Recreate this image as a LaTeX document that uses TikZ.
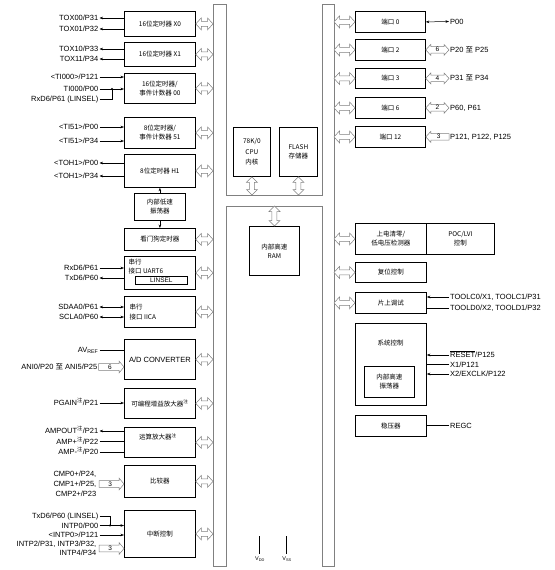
\documentclass[tikz,border=0pt]{standalone}
\usepackage{fontspec}
\setmainfont{Liberation Sans}
\newfontfamily\cjk{Noto Sans CJK SC}
\usetikzlibrary{calc,arrows.meta}
\newcommand\mybox[6]{\node[box,minimum width=#4pt,minimum height=#5pt] (#1) at (#2,#3) {#6};}
\begin{document}
\begin{tikzpicture}[x=1pt,y=-1pt,
 box/.style={draw, line width=0.8pt, anchor=north west, inner sep=0pt, align=center, font=\cjk\fontsize{6.5}{9}\selectfont},
 txt/.style={inner sep=0pt, align=center, font=\cjk\fontsize{6.5}{9}\selectfont},
 lab/.style={inner sep=1pt, font=\fontsize{7.5}{9}\selectfont, text height=5.4pt, text depth=0pt},
 ll/.style={lab, anchor=east},
 rl/.style={lab, anchor=west},
 num/.style={inner sep=0pt, font=\fontsize{6.5}{7}\selectfont},
 wire/.style={line width=0.5pt},
 arr/.style={wire, -{Stealth[length=3.5pt,width=2.6pt]}},
 barr/.style={wire, {Stealth[length=3.5pt,width=2.6pt]}-{Stealth[length=3.5pt,width=2.6pt]}},
 busline/.style={draw=gray, line width=0.6pt},
 fat/.style={draw=gray, line width=0.5pt, fill=white, line join=miter},
 fatH/.style n args={3}{to path={let \p1=(\tikztostart),\p2=(\tikztotarget) in
   (\x1,\y1) -- (\x1+#3,\y1+#1) -- (\x1+#3,\y1+#2) -- (\x2-#3,\y1+#2) -- (\x2-#3,\y1+#1) -- (\x2,\y1)
   -- (\x2-#3,\y1-#1) -- (\x2-#3,\y1-#2) -- (\x1+#3,\y1-#2) -- (\x1+#3,\y1-#1) -- cycle}},
 fatE/.style n args={3}{to path={let \p1=(\tikztostart),\p2=(\tikztotarget) in
   (\x1,\y1+#2) -- (\x2-#3,\y1+#2) -- (\x2-#3,\y1+#1) -- (\x2,\y1)
   -- (\x2-#3,\y1-#1) -- (\x2-#3,\y1-#2) -- (\x1,\y1-#2) -- cycle}},
 fatS/.style n args={3}{to path={let \p1=(\tikztostart),\p2=(\tikztotarget) in
   (\x1,\y1) -- (\x1+#3,\y1+#1) -- (\x1+#3,\y1+#2) -- (\x2,\y1+#2) -- (\x2,\y1-#2)
   -- (\x1+#3,\y1-#2) -- (\x1+#3,\y1-#1) -- cycle}},
 fatV/.style n args={3}{to path={let \p1=(\tikztostart),\p2=(\tikztotarget) in
   (\x1,\y1) -- (\x1+#1,\y1-#3) -- (\x1+#2,\y1-#3) -- (\x1+#2,\y2+#3) -- (\x1+#1,\y2+#3) -- (\x1,\y2)
   -- (\x1-#1,\y2+#3) -- (\x1-#2,\y2+#3) -- (\x1-#2,\y1-#3) -- (\x1-#1,\y1-#3) -- cycle}},
 fatB/.style={fatH={6pt}{2.5pt}{5.5pt}},
 fatN/.style={fatH={5.5pt}{3.3pt}{5pt}},
 fatNE/.style={fatE={6pt}{3.3pt}{5pt}},
 fatNS/.style={fatS={5.5pt}{3.3pt}{5pt}},
 fatVB/.style={fatV={5.5pt}{2.5pt}{5.5pt}}
]
\useasboundingbox (0,0) rectangle (554,570);

% ---------- bus ----------
\draw[busline] (213,4) -- (226,4) -- (226,195) -- (322,195) -- (322,4) -- (334,4) -- (334,566)
  -- (322,566) -- (322,206) -- (226,206) -- (226,566) -- (213,566) -- cycle;
\coordinate (busL) at (213,0);
\coordinate (busR) at (334,0);
\coordinate (busTop) at (0,195);
\coordinate (busBot) at (0,206);

% ---------- left blocks ----------
\mybox{tx0}{124}{11}{71}{25}{16位定时器 X0}
\mybox{tx1}{124}{42}{71}{24}{16位定时器 X1}
\mybox{t00}{124}{73}{71}{30}{16位定时器/\\事件计数器 00}
\mybox{t51}{124}{117}{71}{31}{8位定时器/\\事件计数器 51}
\mybox{th1}{124}{154}{71}{33}{8位定时器 H1}
\mybox{losc}{134}{193}{51}{27}{内部低速\\振荡器}
\mybox{wdt}{124}{228}{71}{22}{看门狗定时器}
\mybox{uart}{124}{256}{71}{33}{}
\mybox{iica}{124}{296}{71}{31}{}
\mybox{adc}{124}{339}{71}{40}{\normalfont\fontsize{7.5}{9}\selectfont A/D CONVERTER}
\mybox{pga}{124}{388}{71}{30}{可编程增益放大器\textsuperscript{注}}
\mybox{amp}{124}{427}{71}{30}{}
\mybox{cmp}{124}{465}{71}{32}{比较器}
\mybox{intc}{124}{510}{71}{47}{中断控制}

\node[txt, anchor=west] (uartA) at (128.5,262) {串行};
\node[txt, anchor=west] (uartB) at (128.5,271.5) {接口 UART6};
\node[draw, line width=0.8pt, anchor=north west, minimum width=52pt, minimum height=8pt, inner sep=0pt,
      font=\fontsize{6.5}{7}\selectfont] (linsel) at (135,276) {LINSEL};
\node[txt, anchor=west] (iicaA) at (129.5,307) {串行};
\node[txt, anchor=west] (iicaB) at (129.5,316.7) {接口 IICA};
\node[txt] (ampT) at (158,437) {运算放大器\textsuperscript{注}};

% oscillator arrows
\draw[arr] (losc.north) -- (th1.south);
\draw[arr] (losc.south) -- (wdt.north);

% ---------- middle ----------
\node[box,minimum width=37pt,minimum height=49pt,font=\cjk\fontsize{6.5}{10.5}\selectfont] (cpu) at (233,127) {78K/0\\CPU\\内核};
\mybox{flash}{279}{127}{38}{49}{FLASH\\存储器}
\mybox{ram}{249}{226}{50}{49}{内部高速\\RAM}
\draw[fat] (cpu.south) to[fatVB] (cpu.south |- busTop);
\draw[fat] (flash.south) to[fatVB] (flash.south |- busTop);
\draw[fat] (ram.north |- busBot) to[fatVB] (ram.north);

% ---------- right blocks ----------
\mybox{p0}{355}{11}{70}{21}{端口 0}
\mybox{p2}{355}{39}{70}{21}{端口 2}
\mybox{p3}{355}{68}{70}{20}{端口 3}
\mybox{p6}{355}{97}{70}{21}{端口 6}
\mybox{p12}{355}{126}{70}{21}{端口 12}
\mybox{poc1}{355}{223}{71}{31}{上电清零/\\低电压检测器}
\mybox{poc2}{426}{223}{68}{31}{POC/LVI\\控制}
\mybox{rst}{355}{262}{71}{20}{复位控制}
\mybox{dbg}{355}{292}{71}{21}{片上调试}
\mybox{sys}{355}{323}{71}{82}{}
\mybox{sosc}{364}{366}{50}{31}{内部高速\\振荡器}
\mybox{reg}{355}{415}{71}{21}{稳压器}
\node[txt] (sysT) at (390.5,343) {系统控制};

% ---------- bus arrows ----------
\foreach \b in {tx0,tx1,t00,t51,th1,wdt,uart,iica,adc,pga,amp,cmp,intc}
  \draw[fat] (\b.east) to[fatB] (\b.east -| busL);
\foreach \b in {p0,p2,p3,p6,p12,poc1,rst,dbg}
  \draw[fat] (\b.west -| busR) to[fatB] (\b.west);

% ---------- left labels ----------
\node[ll] (lt1) at (99.5,18) {TOX00/P31};
\node[ll] (lt2) at (99.5,29) {TOX01/P32};
\draw[arr] (lt1.east -| tx0.west) -- (lt1.east);
\draw[arr] (lt2.east -| tx0.west) -- (lt2.east);
\node[ll] (lt3) at (99.5,49) {TOX10/P33};
\node[ll] (lt4) at (99.5,59) {TOX11/P34};
\draw[arr] (lt3.east -| tx1.west) -- (lt3.east);
\draw[arr] (lt4.east -| tx1.west) -- (lt4.east);
\node[ll] (lt5) at (99.5,77) {\textless TI000\textgreater/P121};
\node[ll] (lt6) at (99.5,89) {TI000/P00};
\node[ll] (lt7) at (99.5,99) {RxD6/P61 (LINSEL)};
\draw[arr] (lt5.east) -- (lt5.east -| t00.west);
\draw[arr] (lt6.east) -- (lt6.east -| t00.west);
\coordinate (j1) at (112,89);
\draw[wire] (lt7.east) -| (j1);
\fill (j1) circle (1.1pt);
\node[ll] (lt8) at (99.5,127) {\textless TI51\textgreater/P00};
\node[ll] (lt9) at (99.5,141) {\textless TI51\textgreater/P34};
\draw[arr] (lt8.east) -- (lt8.east -| t51.west);
\draw[arr] (lt9.east) -- (lt9.east -| t51.west);
\node[ll] (lt10) at (99.5,163) {\textless TOH1\textgreater/P00};
\node[ll] (lt11) at (99.5,176) {\textless TOH1\textgreater/P34};
\draw[arr] (lt10.east -| th1.west) -- (lt10.east);
\draw[arr] (lt11.east -| th1.west) -- (lt11.east);
\node[ll] (lu1) at (99.5,268) {RxD6/P61};
\node[ll] (lu2) at (99.5,278) {TxD6/P60};
\draw[arr] (lu1.east) -- (lu1.east -| uart.west);
\draw[arr] (lu2.east -| uart.west) -- (lu2.east);
\node[ll] (li1) at (99.5,307) {SDAA0/P61};
\node[ll] (li2) at (99.5,317) {SCLA0/P60};
\draw[barr] (li1.east) -- (li1.east -| iica.west);
\draw[barr] (li2.east) -- (li2.east -| iica.west);
\node[ll] (la1) at (99.5,350) {AV\textsubscript{REF}};
\draw[wire] (la1.east) -- (la1.east -| adc.west);
\node[ll] (la2) at (98.5,367) {ANI0/P20 {\cjk 至} ANI5/P25};
\draw[fat] (la2.east) to[fatNE] (la2.east -| adc.west);
\node[num] (na2) at ($(la2.east)!0.45!(la2.east -| adc.west)$) {6};
\node[ll] (lp1) at (99.5,403) {PGAIN\textsuperscript{\cjk 注}/P21};
\draw[arr] (lp1.east) -- (lp1.east -| pga.west);
\node[ll] (lo1) at (99.5,431) {AMPOUT\textsuperscript{\cjk 注}/P21};
\node[ll] (lo2) at (99.5,441.5) {AMP+\textsuperscript{\cjk 注}/P22};
\node[ll] (lo3) at (99.5,452) {AMP-\textsuperscript{\cjk 注}/P20};
\draw[arr] (lo1.east -| amp.west) -- (lo1.east);
\draw[wire] (lo2.east) -- (lo2.east -| amp.west);
\draw[wire] (lo3.east) -- (lo3.east -| amp.west);
\node[ll] (lc1) at (97.5,474) {CMP0+/P24,};
\node[ll] (lc2) at (97.5,484) {CMP1+/P25,};
\node[ll] (lc3) at (97.5,493.5) {CMP2+/P23};
\coordinate (cs) at (99,484);
\draw[fat] (cs) to[fatNE] (cs -| cmp.west);
\node[num] (nc) at ($(cs)!0.45!(cs -| cmp.west)$) {3};
\node[ll] (ln1) at (99.5,516) {TxD6/P60 (LINSEL)};
\node[ll] (ln2) at (99.5,525.5) {INTP0/P00};
\node[ll] (ln3) at (99.5,535) {\textless INTP0\textgreater/P121};
\node[ll] (ln4) at (97.5,544) {INTP2/P31, INTP3/P32,};
\node[ll] (ln5) at (97.5,553) {INTP4/P34};
\coordinate (j2) at (110,525.5);
\draw[wire] (ln1.east) -| (j2);
\fill (j2) circle (1.1pt);
\draw[arr] (ln2.east) -- (ln2.east -| intc.west);
\draw[arr] (ln3.east) -- (ln3.east -| intc.west);
\coordinate (ns) at (99,548.5);
\draw[fat] (ns) to[fatNE] (ns -| intc.west);
\node[num] (nn) at ($(ns)!0.45!(ns -| intc.west)$) {3};

% ---------- right labels ----------
\node[rl] (rp0) at (449,21.5) {P00};
\draw[barr] (p0.east) -- (rp0.west);
\node[rl] (rp2) at (449,49.5) {P20 {\cjk 至} P25};
\draw[fat] (p2.east) to[fatN] (rp2.west);
\node[num] (np2) at ($(p2.east)!0.5!(rp2.west)$) {6};
\node[rl] (rp3) at (449,78) {P31 {\cjk 至} P34};
\draw[fat] (p3.east) to[fatN] (rp3.west);
\node[num] (np3) at ($(p3.east)!0.5!(rp3.west)$) {4};
\node[rl] (rp6) at (449,107.5) {P60, P61};
\draw[fat] (p6.east) to[fatN] (rp6.west);
\node[num] (np6) at ($(p6.east)!0.5!(rp6.west)$) {2};
\node[rl] (rp12) at (449,136.5) {P121, P122, P125};
\draw[fat] (p12.east) to[fatNS] (rp12.west);
\node[num] (np12) at ($(p12.east)!0.55!(rp12.west)$) {3};

\node[rl] (rd1) at (449,297) {TOOLC0/X1, TOOLC1/P31};
\node[rl] (rd2) at (449,308) {TOOLD0/X2, TOOLD1/P32};
\draw[arr] (rd1.west) -- (rd1.west -| dbg.east);
\draw[wire] (rd2.west) -- (rd2.west -| dbg.east);
\node[rl] (rs1) at (449,355) {$\overline{\hbox{RESET}}$/P125};
\node[rl] (rs2) at (449,364.5) {X1/P121};
\node[rl] (rs3) at (449,374) {X2/EXCLK/P122};
\draw[arr] (rs1.west) -- (rs1.west -| sys.east);
\draw[wire] (rs2.west) -- (rs2.west -| sys.east);
\draw[arr] (rs3.west) -- (rs3.west -| sys.east);
\node[rl] (rr1) at (449,425.5) {REGC};
\draw[wire] (rr1.west) -- (rr1.west -| reg.east);

% ---------- power pins ----------
\coordinate (vddt) at (259,536);
\coordinate (vsst) at (286,536);
\node[inner sep=0.5pt, anchor=north, font=\fontsize{5.5}{6}\selectfont] (vdd) at (260,556.5) {V\textsubscript{DD}};
\node[inner sep=0.5pt, anchor=north, font=\fontsize{5.5}{6}\selectfont] (vss) at (287,556.5) {V\textsubscript{SS}};
\draw[wire] (vddt) -- (vddt |- 0,554);
\draw[wire] (vsst) -- (vsst |- 0,554);
\end{tikzpicture}
\end{document}
